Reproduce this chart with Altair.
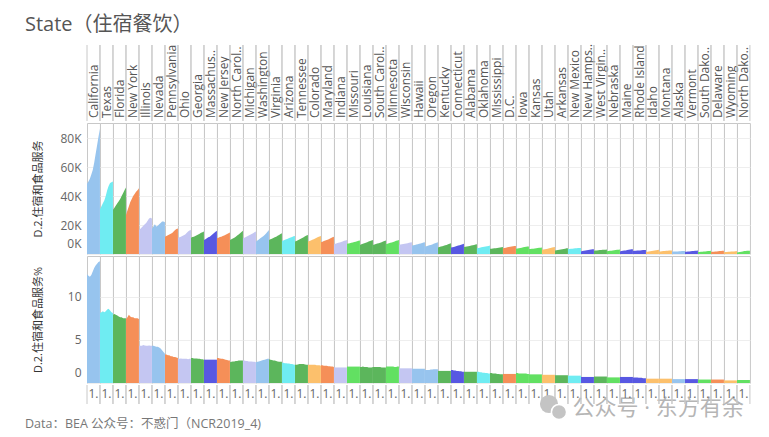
import altair as alt
import pandas as pd

FONT = "Open Sans, Noto Sans CJK SC, sans-serif"

states = ["California", "Texas", "Florida", "New York", "Illinois", "Nevada", "Pennsylvania",
          "Ohio", "Georgia", "Massachus..", "New Jersey", "North Carol..", "Michigan", "Washington",
          "Virginia", "Arizona", "Tennessee", "Colorado", "Maryland", "Indiana", "Missouri",
          "Louisiana", "South Carol..", "Minnesota", "Wisconsin", "Hawaii", "Oregon", "Kentucky",
          "Connecticut", "Alabama", "Oklahoma", "Mississippi", "D.C.", "Iowa", "Kansas", "Utah",
          "Arkansas", "New Mexico", "New Hamps..", "West Virgin..", "Nebraska", "Maine",
          "Rhode Island", "Idaho", "Montana", "Alaska", "Vermont", "South Dako..", "Delaware",
          "Wyoming", "North Dako.."]

regions = ["FW", "SW", "SE", "ME", "GL", "FW", "ME",
           "GL", "SE", "NE", "ME", "SE", "GL", "FW",
           "SE", "SW", "SE", "RM", "ME", "GL", "PL",
           "SE", "SE", "PL", "GL", "FW", "FW", "SE",
           "NE", "SE", "SW", "SE", "ME", "PL", "PL", "RM",
           "SE", "SW", "NE", "SE", "PL", "NE",
           "NE", "RM", "RM", "FW", "NE", "PL", "ME",
           "RM", "PL"]

region_order = ["FW", "SW", "SE", "ME", "GL", "NE", "RM", "PL"]
region_colors = ["#97c4ee", "#6fecf2", "#5cb65c", "#f58f58", "#c4c6f2", "#5858e2", "#fcc06c", "#62e062"]

# D.2.住宿和食品服务 (thousands), 10 time points per state
value_k = [
    [48.5, 50, 52, 55, 58, 63, 69, 75, 81, 86.5],
    [31, 33, 35, 37, 40, 44, 47, 49, 49.5, 50],
    [30.5, 32, 33.5, 35, 36.5, 38, 40, 42, 44, 46],
    [27, 30, 33, 36, 38, 40, 41.5, 43, 44, 45.5],
    [16.5, 17.5, 18.5, 19.5, 20.5, 21.5, 23, 24.5, 25, 24.5],
    [17.5, 19, 20.5, 19, 19.5, 20.5, 21.5, 22.5, 22.5, 22],
    [12, 12.5, 13, 13.5, 14, 14.5, 15.5, 16.5, 17.2, 17.7],
    [11, 11.5, 12, 12.5, 13, 13.5, 14.5, 15.5, 16.2, 16.6],
    [11.3, 11.7, 12, 12.5, 13, 13.5, 14, 14.6, 15.1, 15.5],
    [9.7, 10.2, 10.8, 11.5, 12, 12.8, 13.6, 14.5, 15.3, 16],
    [10.9, 11.3, 11.7, 12, 12.4, 12.8, 13.3, 13.8, 14.3, 14.8],
    [9.7, 10.2, 10.7, 11.3, 12, 12.7, 13.5, 14.3, 15.2, 16],
    [10.9, 11.3, 11.8, 12.3, 12.8, 13.3, 13.8, 14.4, 15, 15.5],
    [8.6, 9.3, 10, 10.8, 11.5, 12.3, 13.2, 14.2, 15.4, 16.6],
    [9.7, 10.2, 10.6, 11, 11.5, 12, 12.6, 13.2, 13.8, 14.3],
    [9, 9.4, 9.8, 10.2, 10.6, 11, 11.4, 11.8, 12.2, 12.5],
    [8.6, 9, 9.5, 10, 10.5, 11, 11.6, 12.2, 12.7, 13.2],
    [8.6, 9, 9.4, 9.8, 10.2, 10.7, 11.2, 11.7, 12.1, 12.5],
    [8.1, 8.5, 8.9, 9.3, 9.7, 10.1, 10.6, 11.1, 11.6, 12],
    [6.8, 7.1, 7.4, 7.7, 8, 8.3, 8.7, 9.1, 9.4, 9.7],
    [7, 7.2, 7.5, 7.7, 8, 8.3, 8.5, 8.8, 9.1, 9.3],
    [6.3, 6.7, 7, 7.4, 7.8, 8.2, 8.6, 9, 9.4, 9.7],
    [6.3, 6.6, 6.9, 7.2, 7.5, 7.8, 8.2, 8.6, 9, 9.3],
    [6.8, 7.1, 7.4, 7.7, 8, 8.3, 8.7, 9.1, 9.4, 9.7],
    [6.3, 6.5, 6.7, 6.9, 7.1, 7.3, 7.5, 7.7, 7.9, 8.1],
    [5.8, 6, 6.3, 6.5, 6.8, 7, 7.3, 7.6, 7.9, 8.1],
    [5.1, 5.4, 5.7, 6, 6.3, 6.6, 7, 7.4, 7.8, 8.1],
    [4.5, 4.8, 5.1, 5.4, 5.7, 6, 6.3, 6.7, 7.1, 7.4],
    [4.5, 4.7, 4.9, 5.2, 5.5, 5.8, 6.1, 6.4, 6.7, 7],
    [4.8, 5, 5.2, 5.4, 5.6, 5.8, 6, 6.3, 6.6, 6.8],
    [4, 4.2, 4.4, 4.6, 4.8, 5, 5.2, 5.4, 5.6, 5.8],
    [3.6, 3.7, 3.8, 3.9, 4, 4.1, 4.3, 4.5, 4.7, 4.8],
    [4, 4.2, 4.4, 4.6, 4.8, 5, 5.2, 5.4, 5.5, 5.6],
    [3.6, 3.8, 4, 4.2, 4.4, 4.6, 4.8, 5, 5.1, 5.2],
    [3.4, 3.5, 3.6, 3.7, 3.8, 3.9, 4.1, 4.3, 4.4, 4.5],
    [2.9, 3.1, 3.3, 3.5, 3.7, 3.9, 4.2, 4.5, 4.7, 4.9],
    [2.4, 2.6, 2.8, 3, 3.1, 3.3, 3.5, 3.7, 3.9, 4],
    [3.4, 3.5, 3.6, 3.7, 3.8, 3.9, 4, 4.1, 4.2, 4.2],
    [1.8, 2, 2.2, 2.4, 2.6, 2.8, 3, 3.1, 3.2, 3.3],
    [2.3, 2.4, 2.5, 2.6, 2.7, 2.8, 2.9, 3, 3, 3.1],
    [1.9, 2, 2.2, 2.3, 2.5, 2.6, 2.8, 2.9, 3, 3.1],
    [1.8, 2, 2.2, 2.4, 2.5, 2.7, 2.9, 3.1, 3.2, 3.3],
    [2.1, 2.2, 2.3, 2.4, 2.4, 2.5, 2.6, 2.7, 2.7, 2.8],
    [1.3, 1.5, 1.7, 1.9, 2, 2.2, 2.4, 2.6, 2.7, 2.9],
    [1.7, 1.8, 1.9, 2, 2.1, 2.2, 2.3, 2.4, 2.4, 2.5],
    [1.6, 1.7, 1.7, 1.8, 1.8, 1.9, 1.9, 2, 2, 2],
    [1.5, 1.6, 1.7, 1.8, 1.9, 2, 2.1, 2.2, 2.3, 2.4],
    [1.3, 1.4, 1.5, 1.6, 1.7, 1.8, 1.9, 2, 2.1, 2.2],
    [1.4, 1.5, 1.6, 1.7, 1.8, 1.9, 2, 2.1, 2.2, 2.3],
    [1.2, 1.3, 1.4, 1.5, 1.6, 1.7, 1.7, 1.8, 1.9, 2],
    [1, 1.2, 1.4, 1.6, 1.8, 2, 2.1, 2.2, 2.3, 2.3],
]

# D.2.住宿和食品服务% , 10 time points per state
value_pct = [
    [12.6, 12.4, 12.3, 12.5, 12.9, 13.3, 13.6, 13.8, 14.0, 14.1],
    [8.1, 8.2, 8.3, 8.2, 8.3, 8.5, 8.6, 8.4, 8.2, 8.1],
    [7.9, 8.0, 7.9, 7.8, 7.7, 7.6, 7.6, 7.5, 7.5, 7.5],
    [7.4, 7.6, 7.9, 7.7, 7.6, 7.6, 7.5, 7.5, 7.5, 7.4],
    [4.3, 4.3, 4.3, 4.4, 4.35, 4.3, 4.3, 4.35, 4.3, 4.3],
    [4.3, 4.3, 4.25, 4.2, 4.2, 4.1, 4.0, 3.8, 3.6, 3.4],
    [3.3, 3.3, 3.2, 3.2, 3.1, 3.1, 3.0, 3.0, 2.95, 2.9],
    [2.8, 2.8, 2.85, 2.8, 2.8, 2.8, 2.8, 2.75, 2.8, 2.8],
    [2.9, 2.9, 2.85, 2.85, 2.85, 2.8, 2.8, 2.75, 2.75, 2.7],
    [2.7, 2.7, 2.7, 2.7, 2.7, 2.7, 2.7, 2.7, 2.7, 2.7],
    [2.9, 2.9, 2.85, 2.8, 2.8, 2.75, 2.7, 2.65, 2.6, 2.6],
    [2.4, 2.45, 2.5, 2.5, 2.55, 2.55, 2.6, 2.6, 2.6, 2.6],
    [2.6, 2.6, 2.55, 2.55, 2.5, 2.5, 2.5, 2.45, 2.45, 2.4],
    [2.4, 2.45, 2.5, 2.55, 2.6, 2.65, 2.7, 2.75, 2.8, 2.8],
    [2.75, 2.7, 2.65, 2.6, 2.6, 2.55, 2.5, 2.45, 2.45, 2.45],
    [2.35, 2.35, 2.3, 2.3, 2.25, 2.25, 2.2, 2.2, 2.15, 2.1],
    [2.1, 2.1, 2.15, 2.2, 2.2, 2.2, 2.2, 2.15, 2.1, 2.1],
    [2.1, 2.1, 2.1, 2.1, 2.1, 2.1, 2.05, 2.05, 2.05, 2.0],
    [2.05, 2.05, 2.0, 2.0, 2.0, 1.95, 1.95, 1.9, 1.9, 1.85],
    [1.8, 1.8, 1.8, 1.8, 1.8, 1.8, 1.8, 1.8, 1.8, 1.8],
    [1.9, 1.9, 1.9, 1.9, 1.9, 1.9, 1.9, 1.9, 1.9, 1.9],
    [1.85, 1.85, 1.9, 1.85, 1.85, 1.85, 1.8, 1.8, 1.8, 1.85],
    [1.85, 1.85, 1.85, 1.85, 1.85, 1.85, 1.8, 1.8, 1.8, 1.8],
    [1.9, 1.9, 1.9, 1.9, 1.9, 1.9, 1.85, 1.85, 1.9, 1.9],
    [1.7, 1.7, 1.7, 1.7, 1.7, 1.7, 1.7, 1.7, 1.7, 1.7],
    [1.65, 1.65, 1.65, 1.65, 1.65, 1.65, 1.65, 1.65, 1.65, 1.65],
    [1.5, 1.5, 1.5, 1.5, 1.55, 1.55, 1.6, 1.6, 1.6, 1.6],
    [1.4, 1.4, 1.4, 1.4, 1.4, 1.4, 1.4, 1.4, 1.4, 1.4],
    [1.5, 1.5, 1.45, 1.45, 1.4, 1.4, 1.35, 1.35, 1.3, 1.3],
    [1.3, 1.3, 1.3, 1.3, 1.3, 1.3, 1.3, 1.3, 1.3, 1.3],
    [1.3, 1.3, 1.25, 1.25, 1.2, 1.2, 1.15, 1.15, 1.1, 1.1],
    [1.15, 1.15, 1.1, 1.1, 1.1, 1.05, 1.05, 1.0, 1.0, 1.0],
    [1.05, 1.05, 1.05, 1.05, 1.05, 1.05, 1.05, 1.05, 1.05, 1.05],
    [1.15, 1.15, 1.1, 1.1, 1.1, 1.1, 1.1, 1.1, 1.05, 1.05],
    [1.0, 1.0, 1.0, 1.0, 1.0, 1.0, 1.0, 1.0, 1.0, 1.0],
    [0.95, 0.95, 0.95, 0.95, 0.95, 0.95, 0.95, 0.95, 0.95, 0.95],
    [0.9, 0.9, 0.9, 0.9, 0.9, 0.9, 0.9, 0.9, 0.9, 0.9],
    [0.85, 0.85, 0.85, 0.85, 0.85, 0.85, 0.85, 0.85, 0.85, 0.85],
    [0.7, 0.7, 0.7, 0.7, 0.7, 0.7, 0.7, 0.7, 0.7, 0.7],
    [0.75, 0.75, 0.75, 0.75, 0.75, 0.75, 0.75, 0.75, 0.75, 0.75],
    [0.65, 0.65, 0.65, 0.65, 0.65, 0.65, 0.65, 0.65, 0.65, 0.65],
    [0.7, 0.7, 0.7, 0.7, 0.7, 0.7, 0.7, 0.7, 0.7, 0.7],
    [0.65, 0.65, 0.65, 0.65, 0.6, 0.6, 0.6, 0.55, 0.55, 0.55],
    [0.5, 0.5, 0.5, 0.5, 0.5, 0.5, 0.5, 0.5, 0.5, 0.5],
    [0.5, 0.5, 0.5, 0.5, 0.5, 0.5, 0.5, 0.5, 0.5, 0.5],
    [0.45, 0.45, 0.45, 0.45, 0.45, 0.45, 0.45, 0.45, 0.45, 0.45],
    [0.45, 0.45, 0.45, 0.45, 0.45, 0.45, 0.45, 0.45, 0.45, 0.45],
    [0.4, 0.4, 0.4, 0.4, 0.4, 0.4, 0.4, 0.4, 0.4, 0.4],
    [0.4, 0.4, 0.4, 0.4, 0.4, 0.4, 0.4, 0.4, 0.4, 0.4],
    [0.3, 0.3, 0.3, 0.3, 0.3, 0.3, 0.3, 0.3, 0.3, 0.3],
    [0.35, 0.35, 0.35, 0.35, 0.35, 0.35, 0.35, 0.35, 0.35, 0.35],
]

x_tick_label = "1."
title_text = "State（住宿餐饮）"
footer_text = "Data：BEA 公众号：不惑门（NCR2019_4)"
watermark_text = "公众号 · 东方有余"
measure1 = "D.2.住宿和食品服务"
measure2 = "D.2.住宿和食品服务%"

# ---- tables ----
rows = []
for s, r, vk, vp in zip(states, regions, value_k, value_pct):
    for t, (a, b) in enumerate(zip(vk, vp)):
        rows.append({"state": s, "region": r, "t": t, "vk": a, "vp": b})
df = pd.DataFrame(rows)
df_states = pd.DataFrame({"state": states,
                          "label": [x_tick_label] * len(states),
                          "foot": [footer_text] * len(states),
                          "wm": [watermark_text] * len(states)})

CW = 12.93
GRID = "#c8c8c8"
col = alt.Column("state:N", sort=states,
                 header=alt.Header(labels=False, title=None, labelPadding=0, titlePadding=0))
color = alt.Color("region:N", scale=alt.Scale(domain=region_order, range=region_colors), legend=None)
xenc = alt.X("t:Q", axis=None, scale=alt.Scale(domain=[0, 9], nice=False))

# header with state names
head_text = alt.Chart().mark_text(angle=270, align="left", baseline="middle", fontSize=12,
                                  font=FONT, color="#555").encode(
    text="state:N", x=alt.value(CW / 2 + 0.5), y=alt.value(73))
head_rule = alt.Chart().mark_rule(color=GRID).encode(x=alt.value(0), y=alt.value(0), y2=alt.value(76))
head_rule2 = alt.Chart().mark_rule(color=GRID).encode(x=alt.value(CW), y=alt.value(0), y2=alt.value(76))
header = alt.layer(head_rule, head_rule2, head_text, data=df_states).properties(
    width=CW, height=76, view=alt.ViewBackground(strokeOpacity=0)
).facet(column=col, spacing=0, bounds="flush")

def yaxis(title, values, expr):
    return alt.Axis(title=title, values=values, labelExpr=expr, ticks=False, domain=False,
                    labelPadding=6, labelFontSize=12, labelColor="#666", labelFont=FONT,
                    labelFlush=True, labelFlushOffset=-4,
                    titleFontSize=11, titleColor="#333", titleFont=FONT, titleFontWeight="normal",
                    titleX=-44, titleBaseline="bottom",
                    gridColor="#eeeeee")

top = alt.Chart(df).mark_area(opacity=1).encode(
    x=xenc,
    y=alt.Y("vk:Q", scale=alt.Scale(domain=[0, 90.5], nice=False),
            axis=yaxis(measure1, [0, 20, 40, 60, 80], "datum.value + 'K'")),
    color=color,
).properties(width=CW, height=131).facet(column=col, spacing=0, bounds="flush")

bottom = alt.Chart(df).mark_area(opacity=1).encode(
    x=xenc,
    y=alt.Y("vp:Q", scale=alt.Scale(domain=[0, 14.7], nice=False),
            axis=yaxis(measure2, [0, 5, 10], "datum.value")),
    color=color,
).properties(width=CW, height=127).facet(column=col, spacing=0, bounds="flush")

# x tick labels row (+ footer note and watermark anchored in it)
lab_text = alt.Chart().mark_text(align="left", baseline="middle", fontSize=12, font=FONT,
                                 color="#666").encode(text="label:N", x=alt.value(1.5), y=alt.value(9))
lab_rule = alt.Chart().mark_rule(color=GRID).encode(x=alt.value(0), y=alt.value(0), y2=alt.value(19))
lab_rule2 = alt.Chart().mark_rule(color=GRID).encode(x=alt.value(CW), y=alt.value(0), y2=alt.value(19))
foot = alt.Chart().transform_filter(alt.datum.state == states[0]).mark_text(
    align="left", baseline="middle", fontSize=12.5, font=FONT, color="#777"
).encode(text="foot:N", x=alt.value(-62), y=alt.value(39))
wm_icon1 = alt.Chart().transform_filter(alt.datum.state == states[37]).mark_point(
    shape="circle", filled=True, size=330, color="#c4c4c4", opacity=1
).encode(x=alt.value(-19), y=alt.value(19))
wm_icon2 = alt.Chart().transform_filter(alt.datum.state == states[37]).mark_point(
    shape="circle", filled=True, size=230, color="#c4c4c4", opacity=1, stroke="white", strokeWidth=1.5
).encode(x=alt.value(-9), y=alt.value(27))
wm = alt.Chart().transform_filter(alt.datum.state == states[37]).mark_text(
    align="left", baseline="middle", fontSize=22, font=FONT, color="#b5b5b5"
).encode(text="wm:N", x=alt.value(4.6), y=alt.value(23))
labels = alt.layer(lab_rule, lab_rule2, lab_text, foot, wm_icon1, wm_icon2, wm, data=df_states).properties(
    width=CW, height=19, view=alt.ViewBackground(strokeOpacity=0)
).facet(column=col, spacing=0, bounds="flush")

chart = alt.vconcat(header, top, bottom, labels, spacing=0).properties(
    title=alt.TitleParams(text=title_text, anchor="start", frame="bounds", fontSize=20,
                          font=FONT, color="#555", fontWeight="normal", offset=9),
    padding={"left": 17, "top": 6, "right": 5, "bottom": 0},
).configure_view(stroke=GRID, strokeWidth=1).configure_concat(spacing=0)

chart.save("out.html", embed_options={"renderer": "svg", "actions": False})
